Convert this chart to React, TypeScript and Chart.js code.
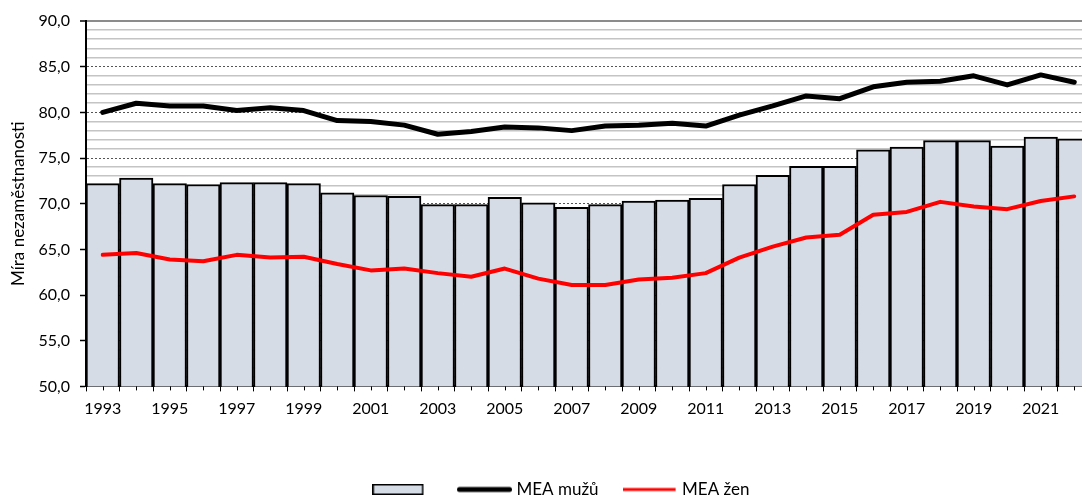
import React, { useEffect, useRef } from 'react';
import { Chart, registerables } from 'chart.js';

Chart.register(...registerables);

const years = [
  '1993', '1994', '1995', '1996', '1997', '1998', '1999', '2000', '2001', '2002',
  '2003', '2004', '2005', '2006', '2007', '2008', '2009', '2010', '2011', '2012',
  '2013', '2014', '2015', '2016', '2017', '2018', '2019', '2020', '2021', '2022',
];

const meaCelkem = [
  72.2, 72.8, 72.2, 72.1, 72.3, 72.3, 72.2, 71.2, 70.9, 70.8,
  69.9, 69.9, 70.7, 70.1, 69.6, 69.9, 70.3, 70.4, 70.6, 72.1,
  73.1, 74.1, 74.1, 75.9, 76.2, 76.9, 76.9, 76.3, 77.3, 77.1,
];

const meaMuzu = [
  80.0, 81.0, 80.7, 80.7, 80.2, 80.5, 80.2, 79.1, 79.0, 78.6,
  77.6, 77.9, 78.4, 78.3, 78.0, 78.5, 78.6, 78.8, 78.5, 79.7,
  80.7, 81.8, 81.5, 82.8, 83.3, 83.4, 84.0, 83.0, 84.1, 83.3,
];

const meaZen = [
  64.4, 64.6, 63.9, 63.7, 64.4, 64.1, 64.2, 63.4, 62.7, 62.9,
  62.4, 62.0, 62.9, 61.8, 61.1, 61.1, 61.7, 61.9, 62.4, 64.1,
  65.3, 66.3, 66.6, 68.8, 69.1, 70.2, 69.7, 69.4, 70.3, 70.8,
];

const yMin = 50;
const yMax = 90;
const yTitle = 'Míra nezaměstnanosti';
const labelMuzu = 'MEA mužů';
const labelZen = 'MEA žen';

const FONT = 'Lato';
const BAR_FILL = '#d6dce5';
const LEGEND_SHIFT = 18;
const X_AXIS_H = 66.6;

function makeBarMarker() {
  const c = document.createElement('canvas');
  c.width = 57;
  c.height = 11;
  const g = c.getContext('2d')!;
  g.fillStyle = BAR_FILL;
  g.fillRect(1, 1, 49, 9);
  g.strokeStyle = '#000';
  g.lineWidth = 1.5;
  g.strokeRect(0.75, 0.75, 49.5, 9.5);
  return c;
}

function makeLineMarker(color: string, width: number, round: boolean) {
  const c = document.createElement('canvas');
  c.width = 55;
  c.height = 8;
  const g = c.getContext('2d')!;
  g.strokeStyle = color;
  g.lineWidth = width;
  g.lineCap = round ? 'round' : 'butt';
  g.beginPath();
  const inset = round ? width / 2 : 0;
  g.moveTo(inset, 4);
  g.lineTo(55 - inset - (round ? 0 : 2), 4);
  g.stroke();
  return c;
}

const legendShiftPlugin = {
  id: 'legendShift',
  afterLayout(chart: any) {
    const l = chart.legend;
    if (l) {
      l.left += LEGEND_SHIFT;
      l.right += LEGEND_SHIFT;
    }
  },
};

const minorTickPlugin = {
  id: 'minorTicks',
  afterDraw(chart: any) {
    const xs = chart.scales.x;
    const ctx = chart.ctx;
    const b = chart.chartArea.bottom;
    ctx.save();
    ctx.strokeStyle = '#000';
    ctx.lineWidth = 1;
    for (let i = 0; i < years.length; i++) {
      const x = Math.round(xs.getPixelForValue(i)) + 0.5;
      ctx.beginPath();
      ctx.moveTo(x, b);
      ctx.lineTo(x, b + 4);
      ctx.stroke();
    }
    ctx.restore();
  },
};

export default function App() {
  const ref = useRef<HTMLCanvasElement>(null);

  useEffect(() => {
    const canvas = ref.current;
    if (!canvas) return;
    const barMarker = makeBarMarker();
    const blackMarker = makeLineMarker('#000', 5, true);
    const redMarker = makeLineMarker('#ff0000', 3, false);

    const chart = new Chart(canvas, {
      type: 'bar',
      data: {
        labels: years,
        datasets: [
          {
            type: 'line',
            label: labelMuzu,
            data: meaMuzu,
            borderColor: '#000',
            borderWidth: 5,
            pointRadius: 0,
            tension: 0,
            borderJoinStyle: 'round',
            borderCapStyle: 'round',
            order: 1,
          } as any,
          {
            type: 'line',
            label: labelZen,
            data: meaZen,
            borderColor: '#ff0000',
            borderWidth: 4,
            pointRadius: 0,
            tension: 0,
            borderJoinStyle: 'round',
            borderCapStyle: 'round',
            order: 0,
          } as any,
          {
            type: 'bar',
            label: '',
            data: meaCelkem,
            backgroundColor: BAR_FILL,
            borderColor: '#000',
            borderWidth: 2,
            barPercentage: 1,
            categoryPercentage: 1,
            order: 5,
          } as any,
        ],
      },
      options: {
        responsive: false,
        animation: false,
        layout: { padding: { top: 21, right: 9, left: 0, bottom: 0 } },
        plugins: {
          tooltip: { enabled: false },
          legend: {
            position: 'bottom',
            labels: {
              usePointStyle: true,
              pointStyleWidth: 47,
              padding: 28,
              color: '#000',
              font: { family: FONT, size: 17 },
              generateLabels: () => [
                { text: '', pointStyle: barMarker, fillStyle: BAR_FILL, strokeStyle: '#000', lineWidth: 0, hidden: false, datasetIndex: 2 },
                { text: labelMuzu, pointStyle: blackMarker, fillStyle: '#000', strokeStyle: '#000', lineWidth: 0, hidden: false, datasetIndex: 0 },
                { text: labelZen, pointStyle: redMarker, fillStyle: '#f00', strokeStyle: '#f00', lineWidth: 0, hidden: false, datasetIndex: 1 },
              ] as any,
            },
          },
        },
        scales: {
          x: {
            offset: true,
            afterFit: (s: any) => { s.height = X_AXIS_H; },
            grid: { offset: true, drawOnChartArea: false, drawTicks: true, tickLength: 5, tickColor: '#000', tickWidth: 1 },
            border: { color: '#000', width: 2 },
            ticks: {
              autoSkip: false,
              maxRotation: 0,
              minRotation: 0,
              padding: 8,
              color: '#000',
              font: { family: FONT, size: 16 },
              callback: (_v: any, i: number) => (i % 2 === 0 ? years[i] : ''),
            },
          },
          y: {
            min: yMin,
            max: yMax,
            afterFit: (s: any) => { s.width = 86; },
            ticks: {
              stepSize: 1,
              autoSkip: false,
              padding: 10,
              color: '#000',
              font: { family: FONT, size: 16 },
              callback: (v: any) => (Number(v) % 5 === 0 ? Number(v).toFixed(1).replace('.', ',') : ''),
            },
            grid: {
              color: (c: any) => {
                const v = c.tick ? c.tick.value : 0;
                if (v === yMax) return '#8c8c8c';
                if (v % 5 === 0) return '#555555';
                return '#c4c4c4';
              },
              lineWidth: (c: any) => {
                const v = c.tick ? c.tick.value : 0;
                if (v === yMax) return 2;
                if (v % 5 === 0) return 1;
                return 1.6;
              },
              tickLength: 6,
              tickWidth: 1.5,
              tickColor: (c: any) => {
                const v = c.tick ? c.tick.value : 1;
                return v % 5 === 0 ? '#000' : 'rgba(0,0,0,0)';
              },
            },
            border: {
              color: '#000',
              width: 2,
              dash: (c: any) => {
                if (!c.tick) return [];
                const v = c.tick.value;
                return v % 5 === 0 && v !== yMax ? [2, 2] : [];
              },
            } as any,
            title: {
              display: true,
              text: yTitle,
              color: '#000',
              font: { family: FONT, size: 17 },
              padding: { top: 8, bottom: 0 },
            },
          },
        },
      },
      plugins: [legendShiftPlugin, minorTickPlugin],
    });
    return () => chart.destroy();
  }, []);

  return (
    <div style={{ position: 'fixed', left: 0, top: 0, width: 1082, height: 498, overflow: 'hidden', background: '#fff' }}>
      <div style={{ position: 'relative', width: 1100, height: 508 }}>
        <canvas ref={ref} width={1100} height={508} style={{ display: 'block' }} />
      </div>
    </div>
  );
}
